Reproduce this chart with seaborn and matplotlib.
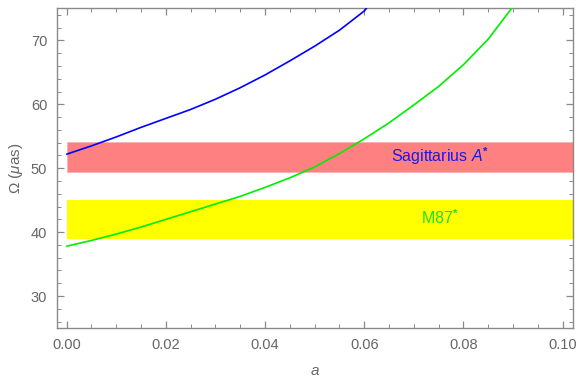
import matplotlib
matplotlib.use("Agg")
import matplotlib.pyplot as plt
import seaborn as sns
import pandas as pd
from matplotlib.ticker import MultipleLocator

# Data
a_blue = [0.0, 0.005, 0.01, 0.015, 0.02, 0.025, 0.03, 0.035, 0.04, 0.045, 0.05, 0.055, 0.06, 0.0605]
omega_sgr = [52.2, 53.5, 54.9, 56.4, 57.8, 59.2, 60.8, 62.6, 64.6, 66.8, 69.1, 71.6, 74.6, 75.1]
a_green = [0.0, 0.005, 0.01, 0.015, 0.02, 0.025, 0.03, 0.035, 0.04, 0.045, 0.05, 0.055, 0.06,
           0.065, 0.07, 0.075, 0.08, 0.085, 0.09]
omega_m87 = [37.8, 38.7, 39.7, 40.8, 42.0, 43.2, 44.4, 45.6, 47.0, 48.5, 50.2, 52.3, 54.6,
             57.1, 59.9, 62.8, 66.2, 70.2, 75.3]
band_x = [0.0, 0.1021]
sgr_band = [49.4, 54.1]
m87_band = [38.9, 45.0]
labels = ["Sagittarius $A^{\\mathbf{*}}$", "M87$^{\\mathbf{*}}$"]

sns.set_theme(style="white")
plt.rcParams['font.family'] = ['Liberation Sans', 'DejaVu Sans']
plt.rcParams['mathtext.fontset'] = 'custom'
plt.rcParams['mathtext.rm'] = 'Liberation Sans'
plt.rcParams['mathtext.it'] = 'Liberation Sans:italic'
plt.rcParams['mathtext.bf'] = 'Liberation Sans:bold'

fig = plt.figure(figsize=(5.79, 3.79), dpi=100)
ax = fig.add_axes([0.0984, 0.1346, 0.8912, 0.843])

ax.fill_between(band_x, [sgr_band[0]] * 2, [sgr_band[1]] * 2, color="#FF8080", lw=0.6,
                edgecolor="#FFB0B0", zorder=1)
ax.fill_between(band_x, [m87_band[0]] * 2, [m87_band[1]] * 2, color="#FFFF00", lw=0, zorder=1)

df_b = pd.DataFrame({"a": a_blue, "omega": omega_sgr})
df_g = pd.DataFrame({"a": a_green, "omega": omega_m87})
sns.lineplot(data=df_b, x="a", y="omega", ax=ax, color="#0000FF", lw=1.2, zorder=3)
sns.lineplot(data=df_g, x="a", y="omega", ax=ax, color="#00EE00", lw=1.2, zorder=3)

ax.text(0.0753, 51.9, labels[0], color="#1A1AE6", fontsize=11.5, ha="center", va="center", zorder=4)
ax.text(0.0753, 42.3, labels[1], color="#22DD22", fontsize=11.5, ha="center", va="center", zorder=4)

ax.set_xlim(-0.00196, 0.1021)
ax.set_ylim(25, 75)

gray = "#666666"
for s in ax.spines.values():
    s.set_color("#8a8a8a")
    s.set_linewidth(1.0)

ax.xaxis.set_major_locator(MultipleLocator(0.02))
ax.xaxis.set_minor_locator(MultipleLocator(0.005))
ax.yaxis.set_major_locator(MultipleLocator(10))
ax.yaxis.set_minor_locator(MultipleLocator(2))
ax.xaxis.set_major_formatter(matplotlib.ticker.FormatStrFormatter("%.2f"))
ax.tick_params(which="both", direction="in", top=True, right=True, bottom=True, left=True,
               color="#8a8a8a", labelcolor=gray, labelsize=10.5)
ax.tick_params(which="major", length=5, width=0.9, pad=7)
ax.tick_params(which="minor", length=3, width=0.7)

ax.set_xlabel("$a$", color=gray, fontsize=11, labelpad=9)
ax.set_ylabel("Ω ($\\mu$as)", color=gray, fontsize=11, labelpad=4)
ax.grid(False)

fig.savefig("out.png", dpi=100)
